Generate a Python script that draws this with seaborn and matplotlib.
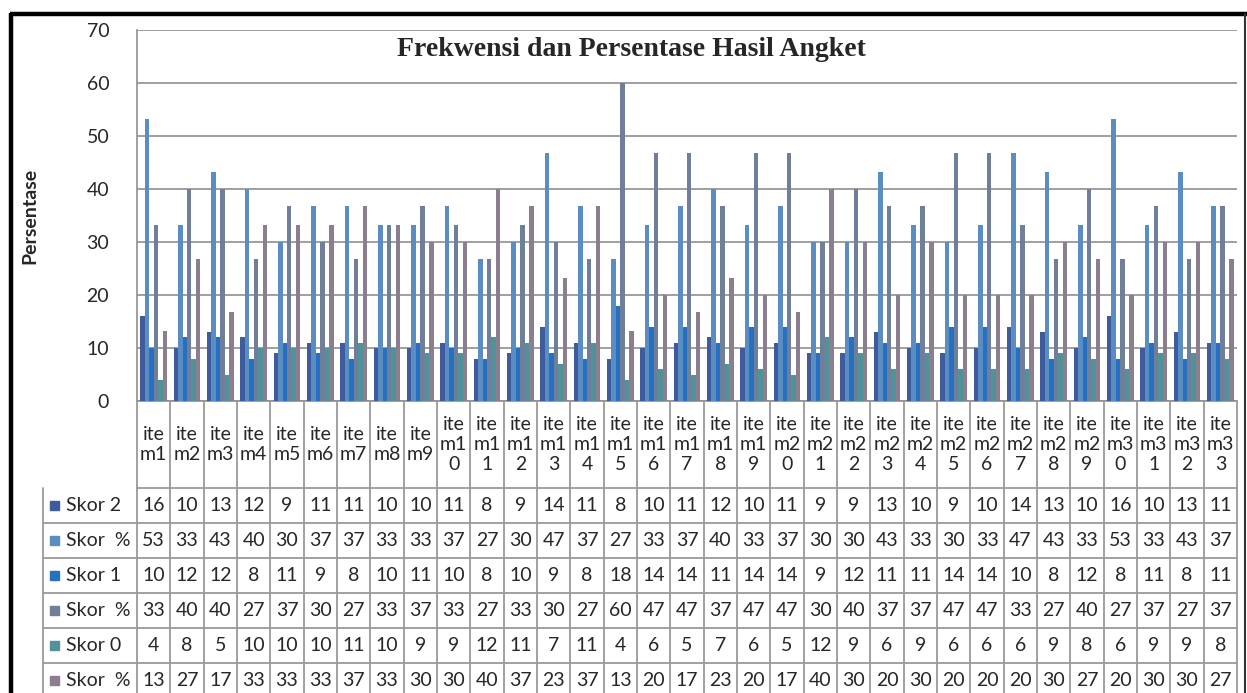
import numpy as np
import pandas as pd
import matplotlib
matplotlib.use("Agg")
import matplotlib.pyplot as plt
import seaborn as sns

items = ["item%d" % i for i in range(1, 34)]

skor2 = [16, 10, 13, 12, 9, 11, 11, 10, 10, 11, 8, 9, 14, 11, 8, 10, 11,
         12, 10, 11, 9, 9, 13, 10, 9, 10, 14, 13, 10, 16, 10, 13, 11]
skor2_pct = [53.3, 33.3, 43.3, 40.0, 30.0, 36.7, 36.7, 33.3, 33.3, 36.7, 26.7,
             30.0, 46.7, 36.7, 26.7, 33.3, 36.7, 40.0, 33.3, 36.7, 30.0, 30.0,
             43.3, 33.3, 30.0, 33.3, 46.7, 43.3, 33.3, 53.3, 33.3, 43.3, 36.7]
skor1 = [10, 12, 12, 8, 11, 9, 8, 10, 11, 10, 8, 10, 9, 8, 18, 14, 14,
         11, 14, 14, 9, 12, 11, 11, 14, 14, 10, 8, 12, 8, 11, 8, 11]
skor1_pct = [33.3, 40.0, 40.0, 26.7, 36.7, 30.0, 26.7, 33.3, 36.7, 33.3, 26.7,
             33.3, 30.0, 26.7, 60.0, 46.7, 46.7, 36.7, 46.7, 46.7, 30.0, 40.0,
             36.7, 36.7, 46.7, 46.7, 33.3, 26.7, 40.0, 26.7, 36.7, 26.7, 36.7]
skor0 = [4, 8, 5, 10, 10, 10, 11, 10, 9, 9, 12, 11, 7, 11, 4, 6, 5,
         7, 6, 5, 12, 9, 6, 9, 6, 6, 6, 9, 8, 6, 9, 9, 8]
skor0_pct = [13.3, 26.7, 16.7, 33.3, 33.3, 33.3, 36.7, 33.3, 30.0, 30.0, 40.0,
             36.7, 23.3, 36.7, 13.3, 20.0, 16.7, 23.3, 20.0, 16.7, 40.0, 30.0,
             20.0, 30.0, 20.0, 20.0, 20.0, 30.0, 26.7, 20.0, 30.0, 30.0, 26.7]

series_keys = ["s2", "s2p", "s1", "s1p", "s0", "s0p"]
series_labels = ["Skor 2", "Skor  %", "Skor 1", "Skor  %", "Skor 0", "Skor  %"]
series_vals = [skor2, skor2_pct, skor1, skor1_pct, skor0, skor0_pct]
colors = ["#3F5B9E", "#5A8DC2", "#2670C1", "#6F7F9A", "#4F9299", "#8B7E8F"]

df = pd.concat([pd.DataFrame({"item": items, "series": k, "value": v})
                for k, v in zip(series_keys, series_vals)], ignore_index=True)

# ---------------- figure ----------------
W, H = 1247, 693
sns.set_style("white")
plt.rcParams['font.family'] = ['Lato', 'DejaVu Sans']

fig = plt.figure(figsize=(W / 100, H / 100), dpi=100)

PL, PR, PT, PB = 137, 1237, 30, 401   # plot area in pixels
ax = fig.add_axes([PL / W, (H - PB) / H, (PR - PL) / W, (PB - PT) / H])
sns.barplot(data=df, x="item", y="value", hue="series", hue_order=series_keys,
            palette=dict(zip(series_keys, colors)), width=0.8, saturation=1,
            legend=False, ax=ax, zorder=3, linewidth=0, edgecolor='none')
ax.set_xlim(-0.5, len(items) - 0.5)
ax.set_ylim(0, 70)
ax.set_yticks(range(0, 71, 10))
ax.tick_params(axis='y', length=0, pad=20, labelsize=14)
ax.set_xticks([])
ax.set_xlabel("")
ax.set_ylabel("")
ax.grid(axis='y', color='#8f8f8f', linewidth=1.2, zorder=0)
ax.set_axisbelow(True)
for s in ["top", "right"]:
    ax.spines[s].set_visible(False)
for s in ["left", "bottom"]:
    ax.spines[s].set_color('#8f8f8f')
    ax.spines[s].set_linewidth(1.2)

# overlay in pixel coords for title, ylabel, data table, frame
ov = fig.add_axes([0, 0, 1, 1], zorder=5)
ov.set_xlim(0, W)
ov.set_ylim(H, 0)
ov.axis('off')
ov.patch.set_alpha(0)

ov.text(631, 50, "Frekwensi dan Persentase Hasil Angket", ha='center', va='center',
        fontsize=20, fontweight='bold', family=['Liberation Serif', 'DejaVu Serif'])
ov.text(30, 216, "Persentase", rotation=90, ha='center', va='center',
        fontsize=14, fontweight='bold')

# data table
gc = '#9a9a9a'
glw = 1.3
n = len(items)
colw = (PR - PL) / n
edges = [PL + k * colw for k in range(n + 1)]
hdr_bot = 488
rowh = 35
lab_left = 43

for x in edges:
    ov.plot([x, x], [PB, H + 5], color=gc, lw=glw, clip_on=False)
ov.plot([lab_left, lab_left], [hdr_bot, H + 5], color=gc, lw=glw)
ov.plot([PL, PR], [hdr_bot, hdr_bot], color=gc, lw=glw)

for i, name in enumerate(items):
    cx = PL + (i + 0.5) * colw
    parts = [name[:3], name[3:5], name[5:]]
    txt = "\n".join(p for p in parts if p)
    ov.text(cx, (PB + hdr_bot) / 2, txt, ha='center', va='center',
            fontsize=14, linespacing=1.25)

for r, (lab, vals, col) in enumerate(zip(series_labels, series_vals, colors)):
    top = hdr_bot + r * rowh
    cy = top + rowh / 2
    ov.plot([lab_left, PR], [top + rowh, top + rowh], color=gc, lw=glw)
    ov.add_patch(plt.Rectangle((50, cy - 4.5), 9, 9, color=col))
    ov.text(66, cy, lab, ha='left', va='center', fontsize=14)
    for i, v in enumerate(vals):
        cx = PL + (i + 0.5) * colw
        ov.text(cx, cy, "%d" % round(v), ha='center', va='center', fontsize=14)

# outer frame
ov.plot([10, W], [14, 14], color='black', lw=3.2, solid_capstyle='butt')
ov.plot([11, 11], [13, H + 5], color='black', lw=3.2, solid_capstyle='butt')
ov.plot([1245, 1245], [14, H + 5], color='#333333', lw=1.5)

fig.savefig("out.png", dpi=100)
